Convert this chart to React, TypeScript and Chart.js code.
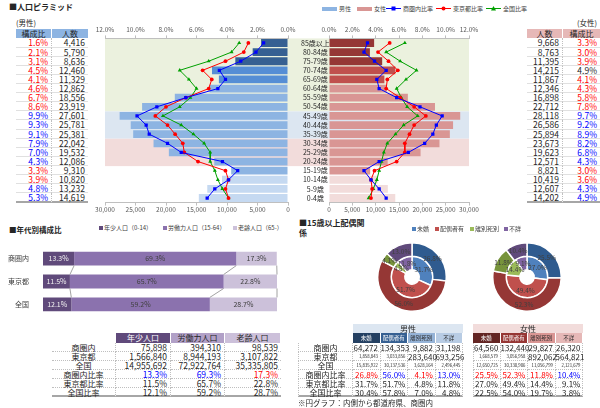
import React, { useEffect, useRef } from 'react';
import { Chart, registerables } from 'chart.js';

Chart.register(...registerables);

const FONT = '"Noto Sans CJK JP", "Noto Sans", sans-serif';
Chart.defaults.font.family = FONT;

// ---------- DATA ----------
const ageLabels = ['85歳以上', '80-84歳', '75-79歳', '70-74歳', '65-69歳', '60-64歳', '55-59歳', '50-54歳', '45-49歳', '40-44歳', '35-39歳', '30-34歳', '25-29歳', '20-24歳', '15-19歳', '10-14歳', '5-9歳', '0-4歳'];
const malePopulation = [4416, 5790, 8636, 12460, 11329, 12862, 18556, 23919, 27601, 25781, 25381, 22042, 19532, 12086, 9310, 10820, 13232, 14619];
const femalePopulation = [9668, 8763, 11395, 14215, 11867, 12346, 16898, 22712, 28118, 26586, 25894, 23673, 19623, 12571, 8821, 10419, 12607, 14202];
const maleLocalRate = [1.6, 2.1, 3.1, 4.5, 4.1, 4.6, 6.7, 8.6, 9.9, 9.3, 9.1, 7.9, 7.0, 4.3, 3.3, 3.9, 4.8, 5.3];
const femaleLocalRate = [3.3, 3.0, 3.9, 4.9, 4.1, 4.3, 5.8, 7.8, 9.7, 9.2, 8.9, 8.2, 6.8, 4.3, 3.0, 3.6, 4.3, 4.9];
const maleTokyoRate = [2.6, 2.9, 4.1, 5.6, 5.0, 5.2, 6.7, 8.0, 8.7, 7.9, 7.4, 6.9, 6.8, 5.9, 4.1, 3.9, 4.1, 3.9];
const maleNationalRate = [3.2, 3.7, 5.2, 7.1, 6.5, 6.0, 6.4, 7.1, 8.2, 7.0, 6.2, 5.5, 5.1, 5.1, 4.8, 4.6, 4.3, 3.9];
const femaleTokyoRate = [5.2, 4.2, 5.1, 5.9, 5.0, 4.9, 6.1, 7.3, 8.3, 7.3, 6.9, 6.5, 6.5, 5.8, 3.9, 3.6, 3.7, 3.6];
const femaleNationalRate = [6.5, 4.9, 6.1, 7.5, 6.6, 5.8, 6.2, 6.7, 7.6, 6.4, 5.7, 5.0, 4.7, 4.5, 4.3, 4.1, 3.8, 3.4];
const maleRateTone = ['r', 'r', 'r', 'r', 'r', 'r', 'r', 'r', 'b', 'b', 'b', 'b', 'b', 'b', 'r', 'r', 'b', 'b'];
const femaleRateTone = ['r', 'r', 'r', 'k', 'r', 'r', 'r', 'r', 'b', 'b', 'b', 'b', 'b', 'b', 'r', 'r', 'b', 'b'];
const rateTicks = [0, 2, 4, 6, 8, 10, 12];

const ageGroupCategories = ['商圏内', '東京都', '全国'];
const ageGroupNames = ['年少人口（0-14）', '労働力人口（15-64）', '老齢人口（65-）'];
const ageGroupHeaders = ['年少人口', '労働力人口', '老齢人口'];
const youthShare = [13.3, 11.5, 12.1];
const workingShare = [69.3, 65.7, 59.2];
const elderlyShare = [17.3, 22.8, 28.7];
const youthPopulation = [75898, 1566840, 14955692];
const workingPopulation = [394310, 8944193, 72922764];
const elderlyPopulation = [98539, 3107822, 35335805];
const ageRowLabels = ['商圏内', '東京都', '全国', '商圏内比率', '東京都比率', '全国比率'];
const ageLocalTone = ['b', 'b', 'r'];

const maritalCategories = ['未婚', '配偶者有', '離別死別', '不詳'];
const maleLocalMarital = [26.8, 56.0, 4.1, 13.0];
const maleTokyoMarital = [31.7, 51.7, 4.8, 11.8];
const maleNationalMarital = [30.4, 57.8, 7.0, 4.8];
const femaleLocalMarital = [25.5, 52.3, 11.8, 10.4];
const femaleTokyoMarital = [27.0, 49.4, 14.4, 9.1];
const femaleNationalMarital = [22.5, 54.0, 19.7, 3.8];
const maleLocalMaritalPop = [64272, 134353, 9882, 31198];
const maleTokyoMaritalPop = [1858843, 3033856, 283640, 693256];
const maleNationalMaritalPop = [15835922, 30137536, 3628164, 2496445];
const femaleLocalMaritalPop = [64560, 132440, 29827, 26320];
const femaleTokyoMaritalPop = [1668579, 3056958, 892062, 564821];
const femaleNationalMaritalPop = [12650725, 30330906, 11056799, 2121679];
const maleLocalTone = ['r', 'b', 'r', 'b'];
const femaleLocalTone = ['r', 'r', 'r', 'b'];

// ---------- STYLE ----------
const TONE: any = { r: '#ff0000', b: '#0000ff', k: '#262626' };
const AXIS_TEXT = '#595959';
const maleBarColors = ['#366092', '#366092', '#366092', '#558ed5', '#558ed5', '#8db4e2', '#8db4e2', '#8db4e2', '#8db4e2', '#8db4e2', '#8db4e2', '#8db4e2', '#8db4e2', '#8db4e2', '#8db4e2', '#c5d9f1', '#c5d9f1', '#c5d9f1'];
const femaleBarColors = ['#953735', '#953735', '#953735', '#c0504d', '#c0504d', '#d99694', '#d99694', '#d99694', '#d99694', '#d99694', '#d99694', '#d99694', '#d99694', '#d99694', '#d99694', '#f2dcdb', '#f2dcdb', '#f2dcdb'];
const bands = [
  { from: 0, to: 7, color: '#ebf1de' },
  { from: 8, to: 10, color: '#dce6f1' },
  { from: 11, to: 13, color: '#f2dcdb' },
];
const LINE_BLUE = '#0000ff';
const LINE_RED = '#ff0000';
const LINE_GREEN = '#00a000';
const ageColors = ['#604a7b', '#8b72ae', '#ccc1da'];
const outerColors = ['#2f5b8f', '#953735', '#77933c', '#604a7b'];
const innerColors = ['#4f81bd', '#c0504d', '#9bbb59', '#8064a2'];

const ROW0 = 38.4;
const ROWH = 9.12;

const pct = (v: number) => v.toFixed(1) + '%';
const num = (v: number) => v.toLocaleString('en-US');

// ---------- PLUGINS ----------
function bandPlugin(isMale: boolean) {
  return {
    id: 'bands',
    beforeDraw(chart: any) {
      const { ctx, chartArea, scales } = chart;
      const y = scales.y;
      const step = y.getPixelForValue(1) - y.getPixelForValue(0);
      const x0 = chartArea.left;
      const x1 = isMale ? chart.width : chartArea.right;
      ctx.save();
      bands.forEach((b) => {
        const top = y.getPixelForValue(b.from) - step / 2;
        const bottom = y.getPixelForValue(b.to) + step / 2;
        ctx.fillStyle = b.color;
        ctx.fillRect(x0, top, x1 - x0, bottom - top);
      });
      ctx.restore();
    },
  };
}

const seriesLinesPlugin = {
  id: 'seriesLines',
  afterDatasetsDraw(chart: any) {
    const ctx = chart.ctx;
    ctx.save();
    ctx.strokeStyle = '#8c8c8c';
    ctx.lineWidth = 0.8;
    chart.data.datasets.forEach((_ds: any, di: number) => {
      const meta = chart.getDatasetMeta(di);
      for (let i = 0; i < meta.data.length - 1; i++) {
        const a: any = meta.data[i];
        const b: any = meta.data[i + 1];
        ctx.beginPath();
        ctx.moveTo(a.x, a.y + a.height / 2);
        ctx.lineTo(b.x, b.y - b.height / 2);
        ctx.stroke();
      }
    });
    ctx.restore();
  },
};

const stackLabelsPlugin = {
  id: 'stackLabels',
  afterDatasetsDraw(chart: any) {
    const ctx = chart.ctx;
    ctx.save();
    ctx.font = `7px ${FONT}`;
    ctx.textAlign = 'center';
    ctx.textBaseline = 'middle';
    chart.data.datasets.forEach((ds: any, di: number) => {
      chart.getDatasetMeta(di).data.forEach((el: any, i: number) => {
        ctx.fillStyle = di === 0 ? '#f2f2f2' : '#404040';
        ctx.fillText(pct(ds.data[i]), (el.x + el.base) / 2, el.y);
      });
    });
    ctx.restore();
  },
};

const arcLabelsPlugin = {
  id: 'arcLabels',
  afterDatasetsDraw(chart: any) {
    const ctx = chart.ctx;
    ctx.save();
    ctx.font = `6.5px ${FONT}`;
    ctx.textAlign = 'center';
    ctx.textBaseline = 'middle';
    ctx.fillStyle = '#404040';
    chart.data.datasets.forEach((ds: any, di: number) => {
      chart.getDatasetMeta(di).data.forEach((el: any, i: number) => {
        const p = el.tooltipPosition();
        ctx.fillText(pct(ds.data[i]), p.x, p.y);
      });
    });
    ctx.restore();
  },
};

// ---------- CONFIGS ----------
function pyramidConfig(isMale: boolean): any {
  const pop = isMale ? malePopulation : femalePopulation;
  const local = isMale ? maleLocalRate : femaleLocalRate;
  const tokyo = isMale ? maleTokyoRate : femaleTokyoRate;
  const nation = isMale ? maleNationalRate : femaleNationalRate;
  const tickFont = { size: 6.5, family: FONT };
  const axisGrid = { display: true, drawOnChartArea: false, drawTicks: true, tickLength: 3, color: '#bfbfbf' };
  const lineDs = (label: string, data: number[], color: string, style: string, r: number) => ({
    type: 'line', label, data, indexAxis: 'y', xAxisID: 'x2', yAxisID: 'y', order: 0,
    borderColor: color, backgroundColor: color, borderWidth: 1, pointStyle: style,
    pointRadius: r, pointBorderWidth: 0, pointBackgroundColor: color, tension: 0,
  });
  return {
    type: 'bar',
    data: {
      labels: ageLabels,
      datasets: [
        {
          type: 'bar', label: isMale ? '男性' : '女性', data: pop, indexAxis: 'y', xAxisID: 'x', yAxisID: 'y', order: 1,
          backgroundColor: isMale ? maleBarColors : femaleBarColors, barPercentage: 0.86, categoryPercentage: 1,
        },
        lineDs('商圏内比率', local, LINE_BLUE, 'rect', 2.3),
        lineDs('東京都比率', tokyo, LINE_RED, 'circle', 1.9),
        lineDs('全国比率', nation, LINE_GREEN, 'triangle', 2.3),
      ],
    },
    options: {
      responsive: false,
      animation: false,
      indexAxis: 'y',
      layout: { padding: isMale ? { left: 17, right: 0, top: 0, bottom: 0 } : { left: 11, right: 15, top: 0, bottom: 0 } },
      plugins: { legend: { display: false }, tooltip: { enabled: false } },
      scales: {
        x: {
          type: 'linear', position: 'bottom', min: 0, max: 30000, reverse: isMale,
          ticks: { stepSize: 5000, callback: (v: any) => num(Number(v)), font: tickFont, color: AXIS_TEXT, padding: 0, maxRotation: 0, autoSkip: false },
          grid: axisGrid, border: { display: true, color: '#bfbfbf' },
          afterFit: (s: any) => { s.height = 15.4; },
        },
        x2: {
          type: 'linear', axis: 'x', position: 'top', min: 0, max: 12, reverse: isMale,
          afterBuildTicks: (s: any) => { s.ticks = rateTicks.map((v) => ({ value: v })); },
          ticks: { callback: (v: any) => Number(v).toFixed(1) + '%', font: tickFont, color: AXIS_TEXT, padding: 2, maxRotation: 0, autoSkip: false },
          grid: axisGrid, border: { display: true, color: '#bfbfbf' },
          afterFit: (s: any) => { s.height = 18.4; },
        },
        y: {
          type: 'category', position: 'right', display: isMale,
          grid: { display: false }, border: { display: false },
          ticks: { crossAlign: 'center', padding: 5, font: { size: 7, family: FONT }, color: '#262626', autoSkip: false },
          afterFit: (s: any) => { s.width = 41; },
        },
      },
    },
    plugins: [bandPlugin(isMale)],
  };
}

function ageStackConfig(): any {
  return {
    type: 'bar',
    data: {
      labels: ageGroupCategories,
      datasets: [
        { label: ageGroupNames[0], data: youthShare, backgroundColor: ageColors[0] },
        { label: ageGroupNames[1], data: workingShare, backgroundColor: ageColors[1] },
        { label: ageGroupNames[2], data: elderlyShare, backgroundColor: ageColors[2] },
      ],
    },
    options: {
      responsive: false,
      animation: false,
      indexAxis: 'y',
      layout: { padding: { left: 0, right: 8, top: 0, bottom: 0 } },
      datasets: { bar: { barPercentage: 0.61, categoryPercentage: 1 } },
      plugins: { legend: { display: false }, tooltip: { enabled: false } },
      scales: {
        x: { stacked: true, display: false, min: 0, max: 100 },
        y: {
          stacked: true, grid: { display: false }, border: { display: false },
          ticks: { font: { size: 7, family: FONT }, color: '#404040', padding: 6 },
          afterFit: (s: any) => { s.width = 43; },
        },
      },
    },
    plugins: [seriesLinesPlugin, stackLabelsPlugin],
  };
}

function donutConfig(outer: number[], inner: number[]): any {
  return {
    type: 'doughnut',
    data: {
      labels: maritalCategories,
      datasets: [
        { label: '商圏内', data: outer, backgroundColor: outerColors, borderColor: '#ffffff', borderWidth: 1.5 },
        { label: '都道府県', data: inner, backgroundColor: innerColors, borderColor: '#ffffff', borderWidth: 1.5 },
      ],
    },
    options: {
      responsive: false,
      animation: false,
      cutout: '21%',
      layout: { padding: 0 },
      plugins: { legend: { display: false }, tooltip: { enabled: false } },
    },
    plugins: [arcLabelsPlugin],
  };
}

// ---------- COMPONENTS ----------
function ChartCanvas({ x, y, w, h, config }: any) {
  const ref = useRef<HTMLCanvasElement>(null);
  useEffect(() => {
    const chart = new Chart(ref.current as HTMLCanvasElement, config());
    return () => chart.destroy();
  }, []);
  return (
    <canvas ref={ref} width={w} height={h} style={{ position: 'absolute', left: x, top: y, width: w, height: h }} />
  );
}

function Box({ x, y, w, h, children, style }: any) {
  return (
    <div
      style={{
        position: 'absolute', left: x, top: y, width: w, height: h, boxSizing: 'border-box',
        lineHeight: h + 'px', whiteSpace: 'nowrap', overflow: 'visible', ...style,
      }}
    >
      {children}
    </div>
  );
}

function PyramidTable({ isMale }: any) {
  const pop = isMale ? malePopulation : femalePopulation;
  const rate = isMale ? maleLocalRate : femaleLocalRate;
  const tone = isMale ? maleRateTone : femaleRateTone;
  const x0 = isMale ? 16 : 527;
  const headBg = isMale ? '#8db4e2' : '#e6b8b7';
  const cols = isMale
    ? [{ key: 'rate', title: '構成比', w: 36 }, { key: 'pop', title: '人数', w: 36 }]
    : [{ key: 'pop', title: '人数', w: 36 }, { key: 'rate', title: '構成比', w: 37 }];
  const cells: any[] = [];
  let cx = x0;
  cols.forEach((c, ci) => {
    cells.push(
      <Box key={'h' + ci} x={cx} y={29} w={c.w} h={9.4}
        style={{ background: headBg, textAlign: 'center', fontSize: 8, borderRight: ci === 0 ? '1px solid #fff' : 'none', color: '#262626' }}>
        {c.title}
      </Box>
    );
    ageLabels.forEach((_a, i) => {
      const isRate = c.key === 'rate';
      cells.push(
        <Box key={ci + '-' + i} x={cx} y={ROW0 + i * ROWH} w={c.w} h={ROWH}
          style={{
            textAlign: 'right', paddingRight: 3, fontSize: 8.5,
            color: isRate ? TONE[tone[i]] : '#262626',
            borderBottom: i === ageLabels.length - 1 ? '2px solid #a6a6a6' : '1px solid #e0e0e0',
            borderRight: ci === 0 ? '1px dotted #bfbfbf' : 'none',
          }}>
          {isRate ? pct(rate[i]) : num(pop[i])}
        </Box>
      );
    });
    cx += c.w;
  });
  return <>{cells}</>;
}

function LegendSwatch({ x, y, w, h, color }: any) {
  return <div style={{ position: 'absolute', left: x, top: y, width: w, height: h, background: color }} />;
}

function LineMarker({ x, y, color, shape }: any) {
  return (
    <svg style={{ position: 'absolute', left: x, top: y }} width={15} height={7}>
      <line x1={0} y1={3.5} x2={15} y2={3.5} stroke={color} strokeWidth={1} />
      {shape === 'rect' && <rect x={5.5} y={1.5} width={4} height={4} fill={color} />}
      {shape === 'circle' && <circle cx={7.5} cy={3.5} r={2} fill={color} />}
      {shape === 'triangle' && <polygon points="7.5,1 10,5.5 5,5.5" fill={color} />}
    </svg>
  );
}

function SmallText({ x, y, children, size = 6, color = '#404040', bold = false }: any) {
  return (
    <div style={{ position: 'absolute', left: x, top: y, fontSize: size, lineHeight: size + 2 + 'px', color, whiteSpace: 'nowrap', fontWeight: bold ? 700 : 400 }}>
      {children}
    </div>
  );
}

function AgeTable() {
  const colX = [52, 116, 171, 225];
  const colW = [64, 55, 54, 56];
  const headBg = ['#604a7b', '#b1a0c7', '#ccc0da'];
  const headColor = ['#ffffff', '#262626', '#262626'];
  const pops = [youthPopulation, workingPopulation, elderlyPopulation];
  const shares = [youthShare, workingShare, elderlyShare];
  const cells: any[] = [];
  ageGroupHeaders.forEach((t, i) => {
    cells.push(
      <Box key={'h' + i} x={colX[i + 1]} y={333} w={colW[i + 1]} h={10}
        style={{ background: headBg[i], color: headColor[i], textAlign: 'center', fontSize: 8, borderRight: '1px solid #fff' }}>
        {t}
      </Box>
    );
  });
  ageRowLabels.forEach((lab, r) => {
    const y = 343 + r * 9;
    const last = r === ageRowLabels.length - 1;
    const bb = last ? '2px solid #a6a6a6' : '1px dotted #bfbfbf';
    cells.push(
      <Box key={'l' + r} x={colX[0]} y={y} w={colW[0]} h={9}
        style={{ textAlign: 'center', fontSize: 8, borderBottom: bb, borderRight: '1px dotted #bfbfbf', color: '#262626' }}>
        {lab}
      </Box>
    );
    for (let c = 0; c < 3; c++) {
      let text = '';
      let color = '#262626';
      if (r < 3) text = num(pops[c][r]);
      else {
        text = pct(shares[c][r - 3]);
        if (r === 3) color = TONE[ageLocalTone[c]];
      }
      cells.push(
        <Box key={r + '-' + c} x={colX[c + 1]} y={y} w={colW[c + 1]} h={9}
          style={{ textAlign: 'right', paddingRight: 3, fontSize: 8.5, color, borderBottom: bb, borderRight: c < 2 ? '1px dotted #bfbfbf' : 'none' }}>
          {text}
        </Box>
      );
    }
  });
  return <>{cells}</>;
}

function MaritalTable({ isMale }: any) {
  const x0 = isMale ? 353 : 473;
  const cw = 27.5;
  const groupBg = isMale ? '#dce6f1' : '#f2dcdb';
  const subBg = isMale ? ['#244062', '#366092', '#95b3d7', '#b8cce4'] : ['#632523', '#963634', '#da9694', '#e6b8b7'];
  const subColor = ['#ffffff', '#ffffff', '#262626', '#262626'];
  const popRows = isMale
    ? [maleLocalMaritalPop, maleTokyoMaritalPop, maleNationalMaritalPop]
    : [femaleLocalMaritalPop, femaleTokyoMaritalPop, femaleNationalMaritalPop];
  const rateRows = isMale
    ? [maleLocalMarital, maleTokyoMarital, maleNationalMarital]
    : [femaleLocalMarital, femaleTokyoMarital, femaleNationalMarital];
  const tone = isMale ? maleLocalTone : femaleLocalTone;
  const cells: any[] = [];
  cells.push(
    <Box key="g" x={x0} y={324} w={cw * 4} h={9} style={{ background: groupBg, textAlign: 'center', fontSize: 8, color: '#262626' }}>
      {isMale ? '男性' : '女性'}
    </Box>
  );
  maritalCategories.forEach((t, i) => {
    cells.push(
      <Box key={'s' + i} x={x0 + i * cw} y={333} w={cw} h={10}
        style={{ background: subBg[i], color: subColor[i], textAlign: 'center', fontSize: 5.5, borderRight: '1px solid #fff' }}>
        {t}
      </Box>
    );
  });
  if (isMale) {
    ageRowLabels.forEach((lab, r) => {
      const last = r === ageRowLabels.length - 1;
      cells.push(
        <Box key={'l' + r} x={298} y={343 + r * 9} w={55} h={9}
          style={{ textAlign: 'center', fontSize: 8, color: '#262626', borderBottom: last ? '2px solid #a6a6a6' : '1px dotted #bfbfbf', borderRight: '1px dotted #bfbfbf', borderLeft: '1px dotted #bfbfbf' }}>
          {lab}
        </Box>
      );
    });
  }
  for (let r = 0; r < 6; r++) {
    const last = r === 5;
    for (let c = 0; c < 4; c++) {
      let text = '';
      let color = '#262626';
      let size = 8;
      if (r < 3) {
        const v = popRows[r][c];
        text = num(v);
        if (text.length > 7) size = 4.3;
      } else {
        text = pct(rateRows[r - 3][c]);
        if (r === 3) color = TONE[tone[c]];
      }
      cells.push(
        <Box key={r + '-' + c} x={x0 + c * cw} y={343 + r * 9} w={cw} h={9}
          style={{
            textAlign: 'right', paddingRight: 1.5, fontSize: size, color,
            borderBottom: last ? '2px solid #a6a6a6' : '1px dotted #bfbfbf',
            borderRight: '1px dotted #bfbfbf', borderLeft: !isMale && c === 0 ? '1px dotted #bfbfbf' : 'none',
          }}>
          {text}
        </Box>
      );
    }
  }
  return <>{cells}</>;
}

export default function App() {
  return (
    <div style={{ position: 'absolute', left: 0, top: 0, width: 600, height: 408, background: '#ffffff', fontFamily: FONT, color: '#262626', overflow: 'hidden' }}>
      {/* Titles */}
      <SmallText x={9} y={2} size={8} color="#262626" bold>■人口ピラミッド</SmallText>
      <SmallText x={9} y={225} size={7.5} color="#262626" bold>■年代別構成比</SmallText>
      <SmallText x={299} y={218} size={8} color="#262626" bold>■15歳以上配偶関<br />係</SmallText>

      {/* Pyramid legend */}
      <LegendSwatch x={322} y={6.5} w={15} h={4} color="#8db4e2" />
      <SmallText x={339} y={4.5} size={6}>男性</SmallText>
      <LegendSwatch x={357} y={6.5} w={15} h={4} color="#d99694" />
      <SmallText x={374} y={4.5} size={6}>女性</SmallText>
      <LineMarker x={386} y={5} color={LINE_BLUE} shape="rect" />
      <SmallText x={403} y={4.5} size={6}>商圏内比率</SmallText>
      <LineMarker x={436} y={5} color={LINE_RED} shape="circle" />
      <SmallText x={453} y={4.5} size={6}>東京都比率</SmallText>
      <LineMarker x={486} y={5} color={LINE_GREEN} shape="triangle" />
      <SmallText x={503} y={4.5} size={6}>全国比率</SmallText>

      {/* Pyramid tables */}
      <SmallText x={16} y={18} size={7.5} color="#262626">(男性)</SmallText>
      <SmallText x={577} y={18} size={7.5} color="#262626">(女性)</SmallText>
      <PyramidTable isMale />
      <PyramidTable isMale={false} />

      {/* Pyramid charts */}
      <ChartCanvas x={88} y={20} w={241} h={198} config={() => pyramidConfig(true)} />
      <ChartCanvas x={318} y={20} w={207} h={198} config={() => pyramidConfig(false)} />

      {/* Age group legend */}
      <LegendSwatch x={99} y={226} w={4} h={4} color={ageColors[0]} />
      <SmallText x={104} y={224} size={6}>{ageGroupNames[0]}</SmallText>
      <LegendSwatch x={163} y={226} w={4} h={4} color={ageColors[1]} />
      <SmallText x={168} y={224} size={6}>{ageGroupNames[1]}</SmallText>
      <LegendSwatch x={233} y={226} w={4} h={4} color={ageColors[2]} />
      <SmallText x={238} y={224} size={6}>{ageGroupNames[2]}</SmallText>

      <ChartCanvas x={0} y={237} w={285} h={89} config={ageStackConfig} />
      <AgeTable />

      {/* Marital legend */}
      {maritalCategories.map((c, i) => {
        const xs = [412, 435, 470, 504];
        return (
          <React.Fragment key={c}>
            <LegendSwatch x={xs[i]} y={227} w={4} h={4} color={innerColors[i]} />
            <SmallText x={xs[i] + 5} y={225} size={6}>{c}</SmallText>
          </React.Fragment>
        );
      })}

      <ChartCanvas x={377} y={242} w={70} h={70} config={() => donutConfig(maleLocalMarital, maleTokyoMarital)} />
      <ChartCanvas x={492} y={242} w={70} h={70} config={() => donutConfig(femaleLocalMarital, femaleTokyoMarital)} />

      <MaritalTable isMale />
      <MaritalTable isMale={false} />
      <SmallText x={298} y={398} size={7.5} color="#262626">※円グラフ：内側から都道府県、商圏内</SmallText>
    </div>
  );
}
